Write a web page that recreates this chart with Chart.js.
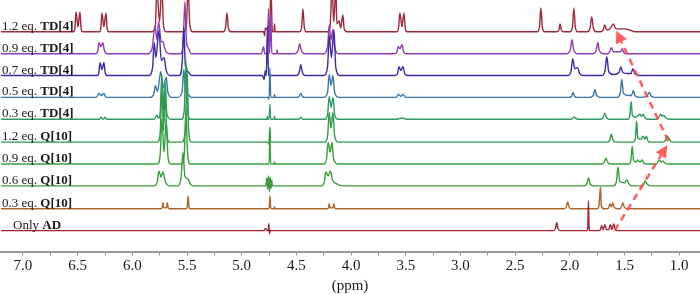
<!DOCTYPE html>
<html>
<head>
<meta charset="utf-8">
<script src="https://cdn.jsdelivr.net/npm/chart.js@4.4.1/dist/chart.umd.min.js"></script>
<style>
  html, body { margin: 0; padding: 0; background: #fff; }
  #nmr { display: block; }
</style>
</head>
<body>
<canvas id="nmr" width="700" height="294"></canvas>
<script>
// row names, bottom to top
const rowNames = ["AD", "Q03", "Q06", "Q09", "Q12", "TD03", "TD05", "TD07", "TD09", "TD12"];
const rowPrefix = ["Only ", "0.3 eq. ", "0.6 eq. ", "0.9 eq. ", "1.2 eq. ", "0.3 eq. ", "0.5 eq. ", "0.7 eq. ", "0.9 eq. ", "1.2 eq. "];
const rowBold = ["AD", "Q[10]", "Q[10]", "Q[10]", "Q[10]", "TD[4]", "TD[4]", "TD[4]", "TD[4]", "TD[4]"];
// vertical stacking offset of each trace
const rowOffset = [21, 43, 66, 88, 110, 133, 155, 177, 199, 221];

// spectra: [ppm, intensity]
const specAD = [
  [7.2, 0],
  [4.80, 0], [4.78, 2], [4.77, 0], [4.758, 0], [4.752, 7], [4.746, -3], [4.74, 0],
  [2.15, 0], [2.132, 2], [2.12, 8], [2.108, 2], [2.09, 0],
  [1.845, 0], [1.836, 3], [1.83, 30], [1.824, 3], [1.815, 0],
  [1.735, 0], [1.72, 1], [1.71, 5], [1.695, 1], [1.68, 6], [1.665, 1],
  [1.645, 1], [1.63, 6], [1.615, 1], [1.60, 7], [1.585, 1], [1.565, 0],
  [0.8, 0]
];
const specQ03 = [
  [7.2, 0],
  [5.74, 0], [5.728, 1], [5.72, 6], [5.712, 1], [5.70, 1], [5.688, 1], [5.68, 6], [5.672, 1], [5.66, 0],
  [5.51, 0], [5.498, 2], [5.49, 13], [5.482, 2], [5.47, 0],
  [4.755, 0], [4.748, 2], [4.742, 13], [4.736, 2], [4.73, 0], [4.705, 0], [4.70, 2], [4.695, 0],
  [4.215, 0], [4.207, 1], [4.2, 5], [4.193, 1], [4.179, 1], [4.165, 1], [4.157, 5], [4.15, 1], [4.14, 0],
  [2.05, 0], [2.032, 2], [2.02, 7], [2.008, 2], [1.99, 0],
  [1.75, 0], [1.734, 3], [1.72, 22], [1.712, 3], [1.69, 0],
  [1.66, 0], [1.645, 1], [1.635, 5], [1.62, 2], [1.607, 6], [1.592, 1], [1.56, 0],
  [1.54, 0], [1.528, 2], [1.516, 6], [1.503, 2], [1.48, 0],
  [0.8, 0]
];
const specQ06 = [
  [7.2, 0],
  [5.80, 0], [5.77, 5], [5.757, 15], [5.738, 9], [5.72, 14], [5.70, 5], [5.66, 0],
  [5.58, 0], [5.555, 8], [5.537, 34], [5.52, 10], [5.49, 7], [5.47, 2], [5.44, 0],
  [4.78, 0], [4.77, 8], [4.765, -3], [4.755, 10], [4.748, -6], [4.74, 9], [4.733, -3], [4.725, 6], [4.72, 0],
  [4.27, 0], [4.245, 4], [4.23, 14], [4.21, 10], [4.19, 15], [4.17, 6], [4.13, 2], [4.08, 0],
  [1.87, 0], [1.845, 2], [1.83, 8], [1.815, 2], [1.78, 0],
  [1.60, 0], [1.575, 4], [1.56, 19], [1.545, 5], [1.50, 3], [1.48, 6], [1.46, 2], [1.43, 0],
  [1.35, 0], [1.325, 2], [1.31, 5], [1.295, 2], [1.26, 0],
  [0.8, 0]
];
const specQ09 = [
  [7.2, 0],
  [5.77, 0], [5.745, 10], [5.73, 45], [5.71, 12], [5.69, 45], [5.675, 8], [5.65, 0],
  [5.55, 0], [5.525, 10], [5.51, 55], [5.495, 10], [5.47, 0],
  [4.76, 0], [4.75, 0], [4.742, 28], [4.735, 0], [4.705, 0], [4.70, 2], [4.695, 0],
  [4.25, 0], [4.225, 5], [4.21, 22], [4.192, 12], [4.175, 22], [4.16, 5], [4.12, 0],
  [1.71, 0], [1.685, 2], [1.67, 6], [1.655, 2], [1.63, 0],
  [1.46, 0], [1.442, 4], [1.43, 18], [1.418, 4], [1.395, 2], [1.38, 4], [1.36, 2], [1.34, 4], [1.325, 1], [1.30, 0],
  [1.21, 0], [1.18, 4], [1.165, 2], [1.15, 3], [1.13, 1], [1.10, 0],
  [0.8, 0]
];
const specQ12 = [
  [7.2, 0],
  [5.77, 0], [5.745, 10], [5.73, 55], [5.715, 12], [5.70, 50], [5.685, 8], [5.66, 0],
  [5.55, 0], [5.515, 12], [5.50, 75], [5.485, 12], [5.46, 0],
  [4.76, 0], [4.752, -2], [4.742, 15], [4.735, 0],
  [4.24, 0], [4.215, 6], [4.2, 30], [4.183, 14], [4.166, 30], [4.15, 6], [4.12, 0],
  [1.66, 0], [1.635, 2], [1.62, 8], [1.605, 2], [1.58, 0],
  [1.42, 0], [1.40, 4], [1.39, 21], [1.378, 4], [1.35, 3], [1.33, 6], [1.315, 3], [1.30, 6], [1.285, 1], [1.26, 0],
  [1.15, 0], [1.125, 2], [1.11, 6], [1.09, 3], [1.07, 0],
  [0.8, 0]
];
const specTD03 = [
  [7.2, 0],
  [6.30, 0], [6.287, 2], [6.268, 0], [6.25, 2], [6.235, 0],
  [5.80, 0], [5.775, 4], [5.76, 1], [5.745, 8], [5.73, 45], [5.715, 10], [5.70, 38], [5.685, 6], [5.65, 0],
  [5.55, 0], [5.525, 10], [5.51, 60], [5.495, 10], [5.47, 0],
  [4.77, 0], [4.765, 3], [4.76, 0], [4.75, 0], [4.742, 15], [4.735, 0], [4.705, 0], [4.70, 3], [4.695, 0],
  [4.48, 0], [4.46, 2], [4.44, 0],
  [4.24, 0], [4.215, 5], [4.2, 23], [4.183, 12], [4.166, 22], [4.15, 5], [4.12, 0],
  [3.57, 0], [3.555, 1], [3.52, 1], [3.50, 0],
  [1.99, 0], [1.96, 2], [1.93, 0],
  [1.72, 0], [1.695, 2], [1.68, 6], [1.665, 2], [1.64, 0],
  [1.47, 0], [1.452, 4], [1.44, 18], [1.428, 4], [1.40, 2], [1.36, 5], [1.345, 3], [1.33, 5], [1.31, 1], [1.28, 0],
  [1.20, 0], [1.17, 5], [1.155, 3], [1.14, 4], [1.12, 1], [1.09, 0],
  [0.8, 0]
];
const specTD05 = [
  [7.2, 0],
  [6.33, 0], [6.305, 4], [6.283, 2], [6.26, 4], [6.24, 0],
  [5.84, 0], [5.805, 3], [5.79, 12], [5.77, 6], [5.74, 26], [5.72, 10], [5.69, 20], [5.675, 5], [5.64, 0],
  [5.58, 0], [5.545, 6], [5.53, 28], [5.515, 7], [5.49, 3], [5.46, 0],
  [4.76, 0], [4.75, -2], [4.742, 30], [4.735, 0], [4.705, 0], [4.70, 3], [4.695, 0],
  [4.50, 0], [4.475, 1], [4.46, 4], [4.445, 1], [4.42, 0],
  [4.25, 0], [4.215, 5], [4.2, 23], [4.183, 12], [4.166, 22], [4.15, 5], [4.11, 0],
  [3.59, 0], [3.565, 3], [3.545, 1], [3.525, 3], [3.50, 0],
  [2.01, 0], [1.985, 1], [1.97, 5], [1.955, 1], [1.93, 0],
  [1.82, 0], [1.785, 2], [1.77, 8], [1.755, 2], [1.72, 0],
  [1.57, 0], [1.54, 4], [1.525, 18], [1.51, 4], [1.47, 2], [1.435, 2], [1.42, 7], [1.405, 2], [1.36, 0],
  [1.30, 1], [1.27, 5], [1.255, 1], [1.22, 0],
  [0.8, 0]
];
const specTD07 = [
  [7.2, 0],
  [6.32, 0], [6.306, 3], [6.296, 13], [6.278, 6], [6.26, 13], [6.248, 3], [6.23, 0],
  [5.85, 0], [5.815, 8], [5.80, 33], [5.785, 18], [5.757, 45], [5.735, 15], [5.71, 18], [5.69, 5], [5.65, 0],
  [5.57, 0], [5.545, 12], [5.53, 49], [5.515, 10], [5.49, 4], [5.46, 0],
  [4.81, 0], [4.795, -4], [4.785, 5], [4.775, 0], [4.765, 50], [4.755, 0], [4.74, 0],
  [4.50, 0], [4.475, 3], [4.46, 11], [4.445, 3], [4.42, 0],
  [4.25, 0], [4.215, 9], [4.2, 40], [4.18, 18], [4.157, 46], [4.14, 8], [4.10, 0],
  [3.60, 0], [3.575, 2], [3.563, 9], [3.545, 5], [3.526, 9], [3.51, 2], [3.49, 0],
  [2.02, 0], [1.99, 4], [1.973, 17], [1.955, 7], [1.93, 8], [1.91, 2], [1.88, 0],
  [1.71, 0], [1.68, 4], [1.662, 19], [1.645, 4], [1.60, 1], [1.55, 3], [1.534, 9], [1.515, 3],
  [1.48, 2], [1.44, 2], [1.424, 7], [1.405, 2], [1.37, 0],
  [0.8, 0]
];
const specTD09 = [
  [7.2, 0],
  [6.33, 0], [6.315, 3], [6.305, 11], [6.288, 7], [6.27, 11], [6.255, 3], [6.23, 0],
  [5.86, 0], [5.82, 5], [5.793, 28], [5.775, 14], [5.76, 32], [5.735, 12], [5.72, 12], [5.70, 4], [5.66, 0],
  [5.56, 0], [5.535, 10], [5.52, 52], [5.505, 12], [5.49, 6], [5.46, 0],
  [4.82, 0], [4.80, 7], [4.79, 0], [4.765, 0], [4.755, 45], [4.745, 0], [4.735, 40], [4.725, 0],
  [4.68, 0], [4.675, 4], [4.67, 0],
  [4.52, 0], [4.485, 3], [4.47, 10], [4.455, 3], [4.42, 0],
  [4.25, 0], [4.215, 7], [4.2, 29], [4.185, 14], [4.166, 24], [4.15, 6], [4.11, 0],
  [3.60, 0], [3.58, 2], [3.57, 7], [3.553, 5], [3.535, 9], [3.52, 2], [3.50, 0],
  [2.03, 0], [1.995, 4], [1.98, 14], [1.965, 4], [1.93, 0],
  [1.79, 0], [1.76, 3], [1.744, 11], [1.73, 3], [1.69, 0],
  [1.65, 0], [1.635, 2], [1.62, 6], [1.60, 2], [1.535, 2], [1.52, 5], [1.505, 1], [1.48, 0],
  [0.8, 0]
];
const specTD12 = [
  [7.2, 0],
  [6.54, 0], [6.525, 4], [6.515, 20], [6.497, 5], [6.479, 20], [6.469, 4], [6.455, 0],
  [6.30, 0], [6.288, 4], [6.278, 19], [6.26, 5], [6.241, 19], [6.231, 4], [6.215, 0],
  [5.82, 0], [5.79, 6], [5.775, 45], [5.752, 10], [5.73, 45], [5.715, 6], [5.69, 0],
  [5.53, 0], [5.505, 8], [5.49, 45], [5.475, 8], [5.45, 0],
  [5.17, 0], [5.148, 4], [5.135, 19], [5.122, 4], [5.10, 0],
  [4.80, 0], [4.79, -4], [4.785, 4], [4.745, 0], [4.733, 45], [4.72, 0], [4.705, 0], [4.70, 8], [4.695, 0],
  [4.47, 0], [4.452, 5], [4.44, 23], [4.428, 5], [4.41, 0],
  [4.215, 0], [4.19, 8], [4.175, 45], [4.158, 10], [4.14, 45], [4.13, 8], [4.11, 11], [4.095, 4], [4.075, 17], [4.063, 3], [4.04, 0],
  [3.58, 0], [3.566, 4], [3.554, 19], [3.535, 5], [3.517, 19], [3.505, 4], [3.49, 0],
  [2.30, 0], [2.278, 5], [2.265, 24], [2.252, 5], [2.23, 0],
  [2.12, 0], [2.10, 2], [2.09, 8], [2.078, 2], [2.06, 0],
  [2.0, 0], [1.976, 5], [1.963, 24], [1.95, 5], [1.93, 0],
  [1.84, 0], [1.815, 4], [1.80, 15], [1.785, 4], [1.76, 0],
  [1.72, 0], [1.695, 2], [1.68, 7], [1.665, 2], [1.645, 2], [1.60, 8], [1.58, 3], [1.55, 3], [1.50, 3], [1.46, 2], [1.40, 0],
  [0.8, 0]
];
const spectra = [specAD, specQ03, specQ06, specQ09, specQ12, specTD03, specTD05, specTD07, specTD09, specTD12];
const rowColors = ["#a31f35", "#a8662c", "#3c9c3c", "#38a03a", "#2e9a48", "#2f9a66", "#3c76a6", "#3a2aa5", "#8e3cb0", "#9c2a3a"];

// x ticks
const tickValues = [7.0, 6.75, 6.5, 6.25, 6.0, 5.75, 5.5, 5.25, 5.0, 4.75, 4.5, 4.25, 4.0, 3.75, 3.5, 3.25, 3.0, 2.75, 2.5, 2.25, 2.0, 1.75, 1.5, 1.25, 1.0];

// red dashed arrows, [ppm, height] from -> to
const arrowA = [[1.59, 21], [1.11, 107]];
const arrowB = [[1.10, 111], [1.575, 222]];

const datasets = spectra.map((spec, i) => ({
  label: rowPrefix[i] + rowBold[i],
  data: spec.map((p) => ({ x: p[0], y: rowOffset[i] + p[1] })),
  borderColor: rowColors[i],
  borderWidth: 1.4,
  pointRadius: 0,
  cubicInterpolationMode: "monotone",
  fill: false,
}));

const overlayPlugin = {
  id: "overlay",
  afterDatasetsDraw(chart) {
    const ctx = chart.ctx;
    const xs = chart.scales.x;
    const ys = chart.scales.y;

    // row labels
    ctx.save();
    ctx.fillStyle = "#1a1a1a";
    ctx.textBaseline = "alphabetic";
    rowNames.forEach((name, i) => {
      let x = i === 0 ? 13 : 2;
      const y = ys.getPixelForValue(rowOffset[i]) - 2;
      ctx.font = "13px 'Liberation Serif'";
      ctx.fillText(rowPrefix[i], x, y);
      x += ctx.measureText(rowPrefix[i]).width;
      ctx.font = "bold 13px 'Liberation Serif'";
      ctx.fillText(rowBold[i], x, y);
    });
    ctx.restore();

    // arrows
    [arrowA, arrowB].forEach((arr) => {
      const x0 = xs.getPixelForValue(arr[0][0]);
      const y0 = ys.getPixelForValue(arr[0][1]);
      const x1 = xs.getPixelForValue(arr[1][0]);
      const y1 = ys.getPixelForValue(arr[1][1]);
      const ang = Math.atan2(y1 - y0, x1 - x0);
      const headLen = 12;
      const bx = x1 - headLen * Math.cos(ang);
      const by = y1 - headLen * Math.sin(ang);
      ctx.save();
      ctx.strokeStyle = "rgba(255, 75, 75, 0.9)";
      ctx.fillStyle = "rgba(255, 75, 75, 0.9)";
      ctx.lineWidth = 2.5;
      ctx.setLineDash([7, 5]);
      ctx.beginPath();
      ctx.moveTo(x0, y0);
      ctx.lineTo(bx, by);
      ctx.stroke();
      ctx.setLineDash([]);
      ctx.beginPath();
      ctx.moveTo(x1, y1);
      ctx.lineTo(bx + 6 * Math.sin(ang), by - 6 * Math.cos(ang));
      ctx.lineTo(bx - 6 * Math.sin(ang), by + 6 * Math.cos(ang));
      ctx.closePath();
      ctx.fill();
      ctx.restore();
    });
  },
};

new Chart(document.getElementById("nmr"), {
  type: "line",
  data: { datasets: datasets },
  options: {
    responsive: false,
    animation: false,
    layout: { padding: 0 },
    plugins: {
      legend: { display: false },
      tooltip: { enabled: false },
    },
    scales: {
      x: {
        type: "linear",
        reverse: true,
        min: 0.81,
        max: 7.21,
        afterBuildTicks: (axis) => {
          axis.ticks = tickValues.map((v) => ({ value: v }));
        },
        ticks: {
          autoSkip: false,
          maxRotation: 0,
          padding: 2,
          color: "#1a1a1a",
          font: { family: "'Liberation Serif'", size: 15 },
          callback: (v) => (Math.round(v * 100) % 50 === 0 ? v.toFixed(1) : ""),
        },
        grid: {
          drawOnChartArea: false,
          tickLength: 4,
          tickColor: "#999",
          tickWidth: 1,
        },
        border: { color: "#999", width: 2 },
        title: {
          display: true,
          text: "(ppm)",
          color: "#1a1a1a",
          padding: { top: 0, bottom: 0 },
          font: { family: "'Liberation Serif'", size: 15, lineHeight: 1.1 },
        },
      },
      y: {
        display: false,
        min: 0,
        max: 253,
      },
    },
  },
  plugins: [overlayPlugin],
});
</script>
</body>
</html>
